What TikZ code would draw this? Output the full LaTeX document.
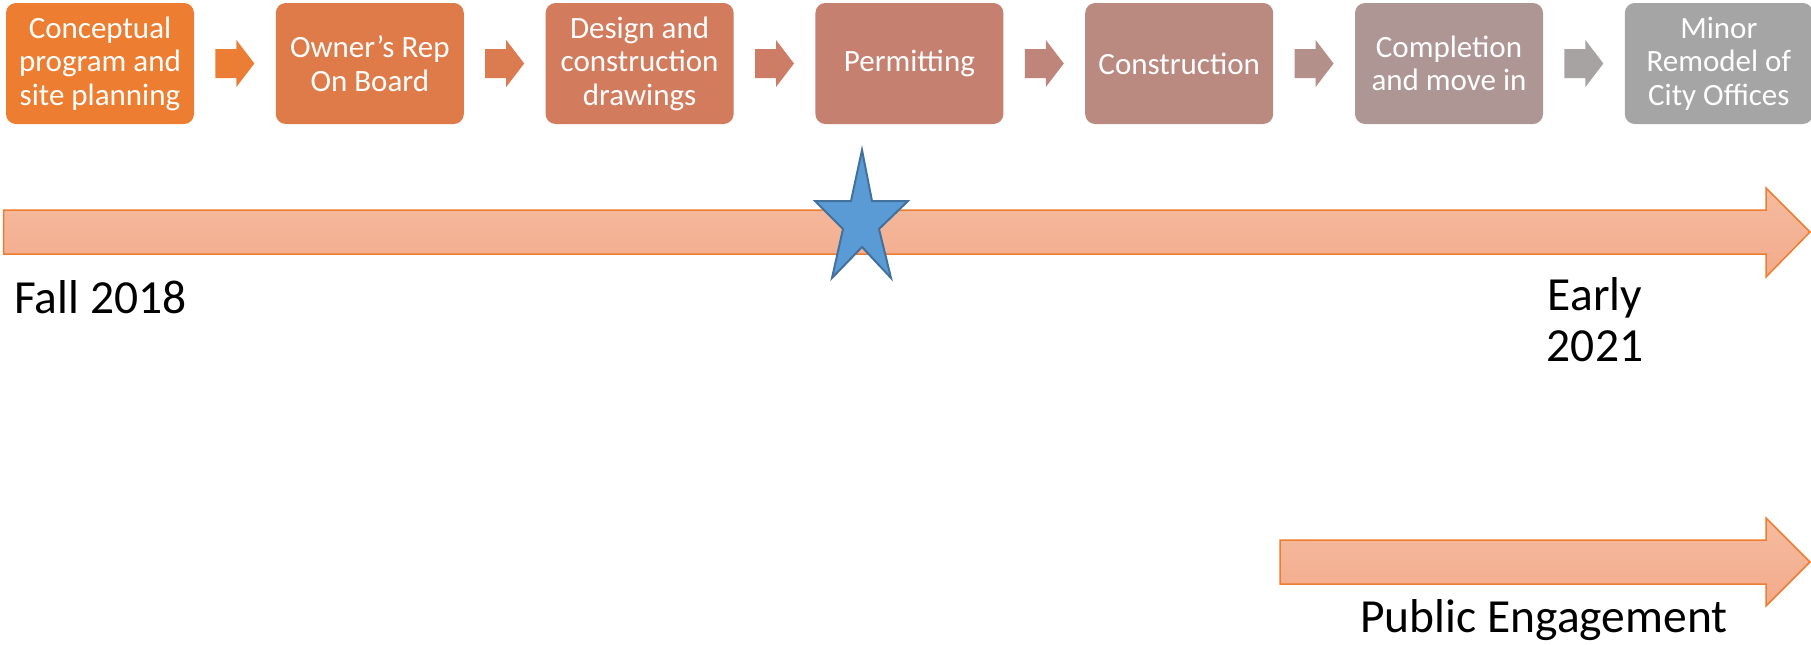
\documentclass[tikz,border=0pt]{standalone}
\usepackage{fontspec}
\setmainfont{Carlito}
\usepackage{tikz}
\usetikzlibrary{positioning}
\usetikzlibrary{calc}

\definecolor{stageA}{HTML}{ED7D31}
\definecolor{stageB}{HTML}{DF7B49}
\definecolor{stageC}{HTML}{D37B5D}
\definecolor{stageD}{HTML}{C6806F}
\definecolor{stageE}{HTML}{BA8A81}
\definecolor{stageF}{HTML}{AE9694}
\definecolor{stageG}{HTML}{A5A5A5}
\definecolor{goA}{HTML}{EC7D34}
\definecolor{goB}{HTML}{DB7B50}
\definecolor{goC}{HTML}{CD7D66}
\definecolor{goD}{HTML}{C0857A}
\definecolor{goE}{HTML}{B4908B}
\definecolor{goF}{HTML}{A7A3A3}
\definecolor{barTop}{HTML}{F5BB9F}
\definecolor{barBottom}{HTML}{F3AB8B}
\definecolor{starFill}{HTML}{5B9BD5}
\definecolor{starLine}{HTML}{41719C}

\begin{document}
\begin{tikzpicture}
    [x=0.5pt, y=-0.5pt,
     stagebox/.style={rounded corners=5pt, minimum width=94pt, minimum height=60.5pt,
       inner sep=0pt, align=center, text=white, font=\fontsize{15.5}{16.75}\selectfont},
     bigtext/.style={inner sep=0pt, font=\fontsize{23.75}{25.5}\selectfont},
     timebar/.style={draw=stageA, line width=0.75pt, top color=barTop, bottom color=barBottom},
     pics/stepgo/.style={code={
       \fill[#1] (-19.5,-14.5) -- (1.5,-14.5) -- (1.5,-23.5) -- (19.5,0)
         -- (1.5,23.5) -- (1.5,14.5) -- (-19.5,14.5) -- cycle;}}]
    \useasboundingbox (0,0) rectangle (1811,644);

    \node (concept) [stagebox, fill=stageA] at (100,63.5) {Conceptual\\program and\\site planning};
    \node (owner) [stagebox, fill=stageB, right = 40.5pt of concept] {Owner’s Rep\\On Board};
    \node (design) [stagebox, fill=stageC, right = 40.5pt of owner] {Design and\\construction\\drawings};
    \node (permit) [stagebox, fill=stageD, right = 40.5pt of design] {Permitting};
    \node (build) [stagebox, fill=stageE, right = 40.5pt of permit] {Construction};
    \node (movein) [stagebox, fill=stageF, right = 40.5pt of build] {Completion\\and move in};
    \node (remodel) [stagebox, fill=stageG, right = 40.5pt of movein] {Minor\\Remodel of\\City Offices};

    \pic at ($(concept.east)!0.5!(owner.west)$) {stepgo=goA};
    \pic at ($(owner.east)!0.5!(design.west)$) {stepgo=goB};
    \pic at ($(design.east)!0.5!(permit.west)$) {stepgo=goC};
    \pic at ($(permit.east)!0.5!(build.west)$) {stepgo=goD};
    \pic at ($(build.east)!0.5!(movein.west)$) {stepgo=goE};
    \pic at ($(movein.east)!0.5!(remodel.west)$) {stepgo=goF};

    % timeline
    \draw[timebar] (3.5,210) -- (1766,210) -- (1766,188) -- (1810,232)
      -- (1766,277) -- (1766,254) -- (3.5,254) -- cycle;
    \draw[fill=starFill, draw=starLine, line width=1pt, line join=miter]
      (862,150) -- (872,201) -- (908,201) -- (879,229) -- (891,278) -- (862,247)
      -- (832,278) -- (843,229) -- (815,201) -- (851,201) -- cycle;

    \node (start) [bigtext, anchor=base west] at (14,313) {Fall 2018};
    \node (finish) [bigtext, align=center, anchor=north] at (1595,277) {Early\\2021};

    % outreach
    \draw[timebar] (1280,540) -- (1766,540) -- (1766,518) -- (1810,562)
      -- (1766,606) -- (1766,584) -- (1280,584) -- cycle;
    \node (public) [bigtext, anchor=base west] at (1360,632) {Public Engagement};

  \end{tikzpicture}
\end{document}
